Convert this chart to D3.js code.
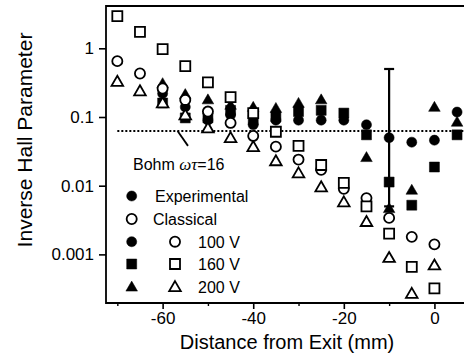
<!DOCTYPE html>
<html><head><meta charset="utf-8">
<script src="https://cdn.jsdelivr.net/npm/d3@7"></script>
<style>
html,body{margin:0;padding:0;background:#fff;}
svg{display:block;font-family:"Liberation Sans",Arial,Helvetica,sans-serif;}
</style></head>
<body>
<svg id="c" width="464" height="364"></svg>
<script>
// ---- data ----
const positions = [-70,-65,-60,-55,-50,-45,-40,-35,-30,-25,-20,-15,-10,-5,0,5];
const exp100 = [null,null,0.22,0.14,0.09,0.107,0.077,0.09,0.09,0.09,0.09,0.077,0.05,0.043,0.046,0.118];
const exp160 = [null,null,0.16,0.097,0.097,0.125,0.09,0.1,0.12,0.125,0.114,0.055,0.0113,0.0052,0.0187,0.055];
const exp200 = [null,null,0.31,0.215,0.18,0.15,0.14,0.135,0.16,0.18,null,0.026,0.0047,0.0087,0.14,0.085];
const cls100 = [0.65,0.43,0.26,0.177,0.12,0.082,0.053,0.037,0.024,0.017,0.009,0.0066,0.0034,0.0018,0.0014,null];
const cls160 = [2.95,1.74,0.97,0.55,0.32,0.195,0.114,0.061,0.038,0.02,0.011,0.005,0.002,0.00066,0.00032,null];
const cls200 = [0.33,0.24,0.16,0.107,0.069,0.05,0.037,0.023,0.0153,0.0096,0.0058,0.003,0.0009,0.00027,0.0007,null];
const bohm = 1/16;
const errorBar = {x:-10, mid:0.05, lo:0.005, hi:0.5};
const xTicks = [-60,-40,-20,0];
const xMinorTicks = [-70,-50,-30,-10];
const yTicks = [0.001,0.01,0.1,1];
const yTickLabels = ["0.001","0.01","0.1","1"];
const legendRows = [
  {label:"Experimental", filled:"circle", open:null},
  {label:"Classical", filled:null, open:"circle", openAsFirst:true},
  {label:"100 V", filled:"circle", open:"circle"},
  {label:"160 V", filled:"square", open:"square"},
  {label:"200 V", filled:"triangle", open:"triangle"}
];

// ---- drawing ----
const svg = d3.select("#c");
const x = d3.scaleLinear().domain([-72.5, 7.5]).range([106, 468.4]);
const y = d3.scaleLog().domain([0.000196, 4.13]).range([303, 6]);

function shapePath(kind){
  if(kind==="circle") return d3.symbol(d3.symbolCircle, 80)();
  if(kind==="square") return "M-5,-5H5V5H-5Z";
  return "M0,-5.6L5.8,4.4L-5.8,4.4Z";
}

// frame
const g = svg.append("g");
g.append("path")
  .attr("d", `M${x.range()[1]+10},${y.range()[1]}H${x.range()[0]}V${y.range()[0]}H${x.range()[1]+10}`)
  .attr("fill","none").attr("stroke","#000").attr("stroke-width",1.8);

// x axis
const xAxis = d3.axisBottom(x).tickValues(xTicks).tickSize(6).tickPadding(3).tickFormat(d=>d);
const gx = svg.append("g").attr("transform",`translate(0,${y.range()[0]})`).call(xAxis);
gx.select(".domain").remove();
gx.selectAll(".tick line").attr("stroke-width",1.6);
gx.selectAll("text").attr("font-size",17).attr("fill","#000").attr("font-family","'Liberation Sans',Arial,sans-serif");
const xMinor = d3.axisBottom(x).tickValues(xMinorTicks).tickSize(3).tickFormat("");
const gxm = svg.append("g").attr("transform",`translate(0,${y.range()[0]})`).call(xMinor);
gxm.select(".domain").remove();
gxm.selectAll(".tick line").attr("stroke-width",1.4);

// y axis
const yAxis = d3.axisLeft(y).tickValues(yTicks).tickSize(7).tickPadding(5)
  .tickFormat((d,i)=>yTickLabels[i]);
const gy = svg.append("g").attr("transform",`translate(${x.range()[0]},0)`).call(yAxis);
gy.select(".domain").remove();
gy.selectAll(".tick line").attr("stroke-width",1.6);
gy.selectAll("text").attr("font-size",17).attr("fill","#000").attr("font-family","'Liberation Sans',Arial,sans-serif");

// axis titles
svg.append("text").attr("x",287).attr("y",349).attr("text-anchor","middle")
  .attr("font-size",20).text("Distance from Exit (mm)");
svg.append("text").attr("transform","translate(32,140) rotate(-90)").attr("text-anchor","middle")
  .attr("font-size",21).text("Inverse Hall Parameter");

// Bohm line
svg.append("line").attr("x1",x(-70)).attr("x2",x.range()[1]+10).attr("y1",y(bohm)).attr("y2",y(bohm))
  .attr("stroke","#000").attr("stroke-width",2).attr("stroke-dasharray","2,2");
svg.append("line").attr("x1",x(-56.7)).attr("y1",y(bohm)).attr("x2",x(-54.4)).attr("y2",y(0.038))
  .attr("stroke","#000").attr("stroke-width",1.8);
const bt = svg.append("text").attr("x",133).attr("y",170).attr("font-size",16);
bt.append("tspan").text("Bohm ");
bt.append("tspan").attr("font-family","'Liberation Serif','Times New Roman',serif").attr("font-style","italic").attr("font-size",17).text("ωτ");
bt.append("tspan").text("=16");

// error bar
const eb = svg.append("g").attr("stroke","#000").attr("stroke-width",2.2);
eb.append("line").attr("x1",x(errorBar.x)).attr("x2",x(errorBar.x)).attr("y1",y(errorBar.hi)).attr("y2",y(errorBar.lo));
eb.append("line").attr("x1",x(errorBar.x)-5).attr("x2",x(errorBar.x)+5).attr("y1",y(errorBar.hi)).attr("y2",y(errorBar.hi));
eb.append("line").attr("x1",x(errorBar.x)-5).attr("x2",x(errorBar.x)+5).attr("y1",y(errorBar.lo)).attr("y2",y(errorBar.lo));

function drawSeries(vals, kind, filled){
  const pts = positions.map((p,i)=>({p, v:vals[i]})).filter(d=>d.v!=null);
  svg.append("g").selectAll("path").data(pts).join("path")
    .attr("transform",d=>`translate(${x(d.p)},${y(d.v)})`)
    .attr("d",shapePath(kind))
    .attr("fill",filled?"#000":"#fff")
    .attr("stroke","#000").attr("stroke-width",filled?0.5:1.8);
}
drawSeries(exp200,"triangle",true);
drawSeries(exp160,"square",true);
drawSeries(exp100,"circle",true);
drawSeries(cls200,"triangle",false);
drawSeries(cls100,"circle",false);
drawSeries(cls160,"square",false);

// legend
const lg = svg.append("g");
const rowY = [196,219,241.7,264,286.7];
legendRows.forEach((r,i)=>{
  const cy = rowY[i];
  if(r.filled){
    lg.append("path").attr("transform",`translate(131.7,${cy})`).attr("d",shapePath(r.filled))
      .attr("fill","#000").attr("stroke","#000").attr("stroke-width",0.5);
  }
  if(r.open){
    const ox = r.openAsFirst ? 131.7 : 175;
    lg.append("path").attr("transform",`translate(${ox},${cy})`).attr("d",shapePath(r.open))
      .attr("fill","#fff").attr("stroke","#000").attr("stroke-width",1.8);
  }
  const tx = i<2 ? (i===0?155:153) : 198;
  lg.append("text").attr("x",tx).attr("y",cy+6).attr("font-size",16).text(r.label);
});
</script>
</body></html>
